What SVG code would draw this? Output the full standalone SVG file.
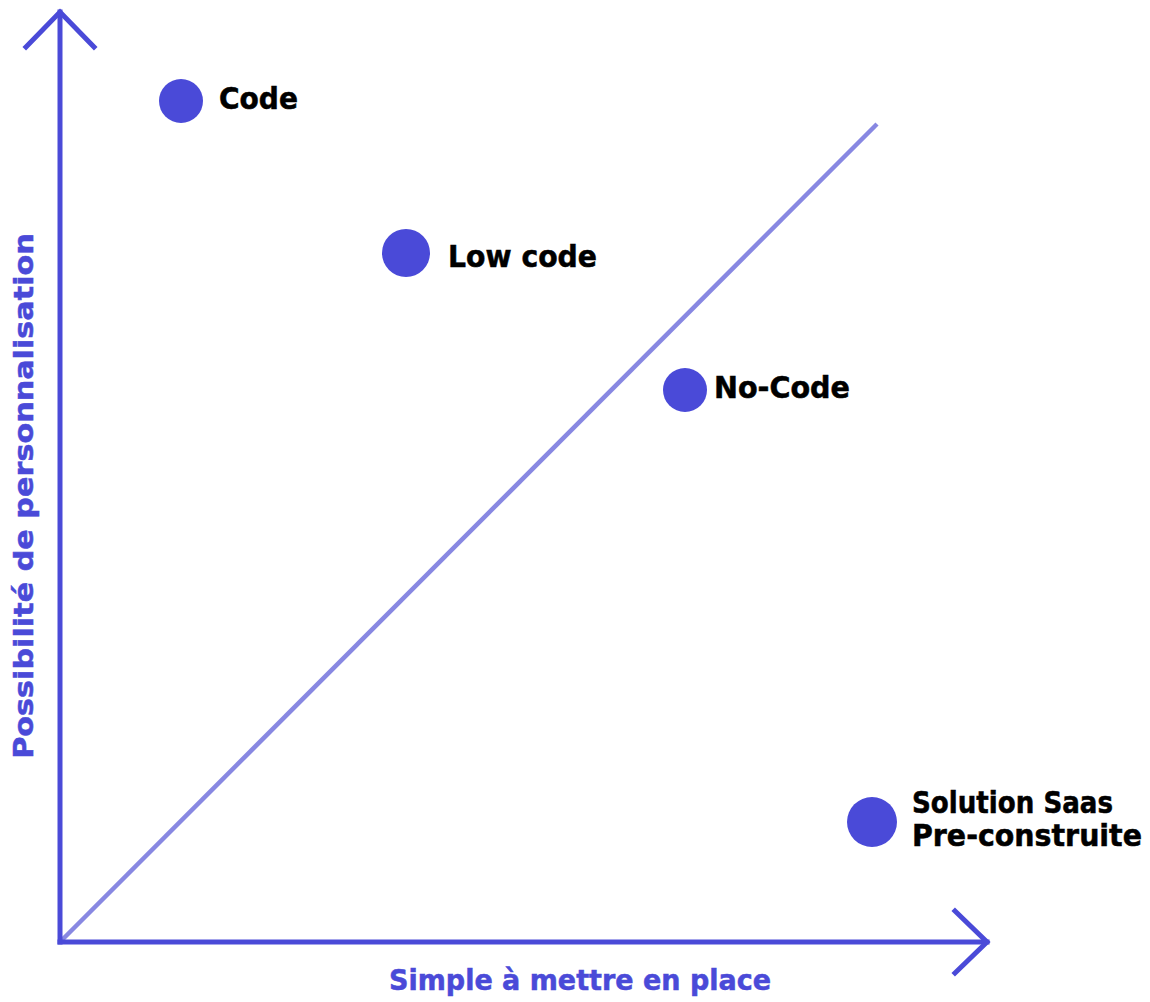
<svg xmlns="http://www.w3.org/2000/svg" width="1150" height="1002" viewBox="0 0 1150 1002">
<style>
.axis{stroke:#4a4ad8;stroke-width:5;fill:none;stroke-linecap:square;stroke-linejoin:miter}
.diag{stroke:#8888e2;stroke-width:4.5;fill:none}
.dot{fill:#4a4ad8}
.lbl{font-family:"DejaVu Sans",sans-serif;font-weight:bold;font-size:28px;fill:#000;stroke:#000;stroke-width:0.5}
.ax{font-family:"DejaVu Sans",sans-serif;font-weight:bold;font-size:27px;fill:#4a4ad8;stroke:#4a4ad8;stroke-width:0.5}
</style>
<rect width="1150" height="1002" fill="#fff"/>
<g id="connectors">
<path class="diag" d="M60 942 L877 124"/>
<path class="axis" d="M60 942 V12"/>
<path class="axis" d="M26 47 L60 12 L94 47"/>
<path class="axis" d="M60 942 H987"/>
<path class="axis" d="M955 911 L987 942 L955 973"/>
</g>
<g id="node-code"><circle class="dot" cx="181" cy="101" r="22"/><text class="lbl" transform="translate(219 109) scale(1 1.07)" textLength="79" lengthAdjust="spacingAndGlyphs">Code</text></g>
<g id="node-lowcode"><circle class="dot" cx="406" cy="253" r="24"/><text class="lbl" transform="translate(448 267) scale(1 1.07)" textLength="149" lengthAdjust="spacingAndGlyphs">Low code</text></g>
<g id="node-nocode"><circle class="dot" cx="685" cy="390" r="22"/><text class="lbl" transform="translate(714 398) scale(1 1.07)" textLength="136" lengthAdjust="spacingAndGlyphs">No-Code</text></g>
<g id="node-saas"><circle class="dot" cx="872" cy="822" r="25"/><text class="lbl" transform="translate(912 813) scale(1 1.07)" textLength="201" lengthAdjust="spacingAndGlyphs">Solution Saas</text><text class="lbl" transform="translate(912 846) scale(1 1.07)" textLength="230" lengthAdjust="spacingAndGlyphs">Pre-construite</text></g>
<text class="ax" transform="translate(580 990) scale(1 1.07)" text-anchor="middle">Simple à mettre en place</text>
<text class="ax" transform="translate(33 496) scale(1 1.12) rotate(-90)" text-anchor="middle" font-size="28">Possibilité de personnalisation</text>
</svg>
